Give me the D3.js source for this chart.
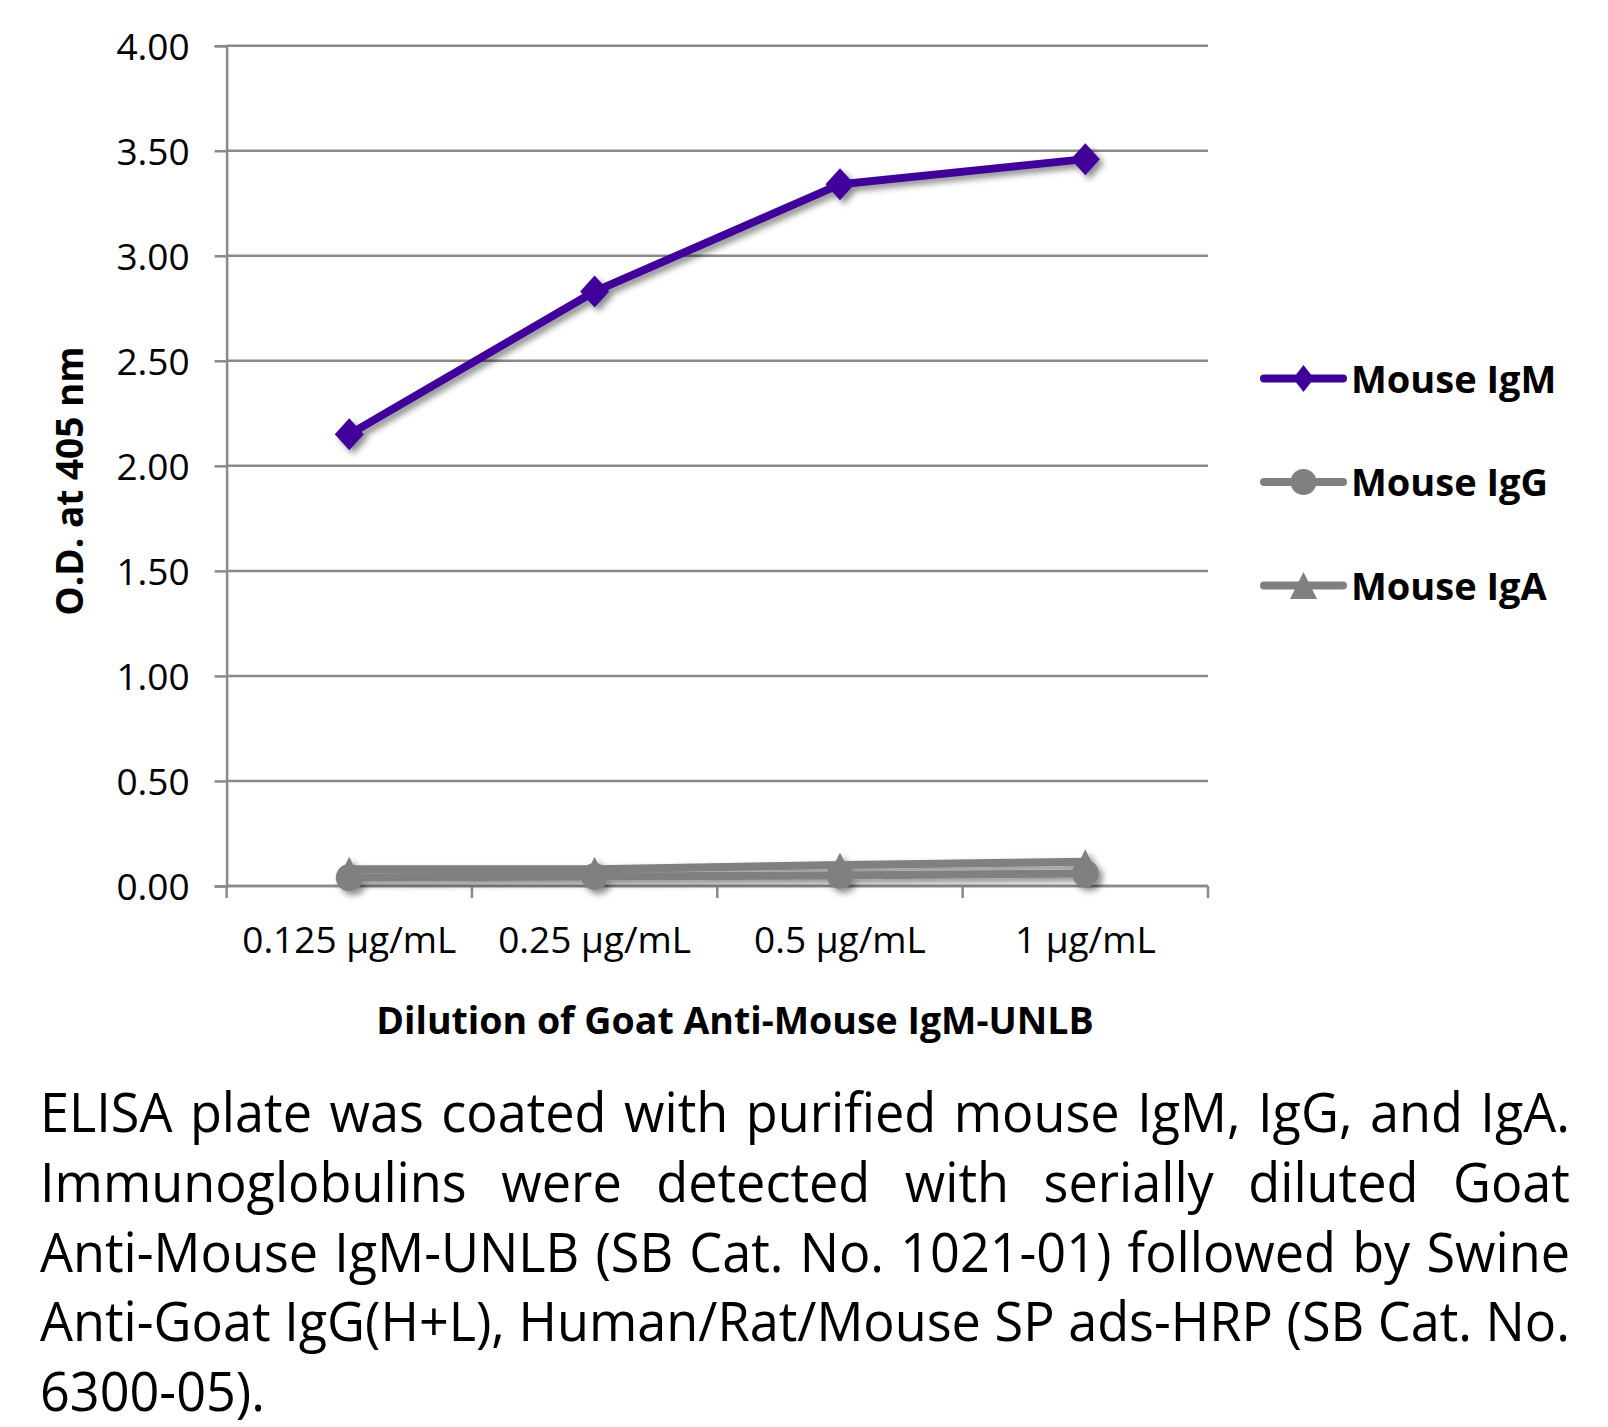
<!DOCTYPE html>
<html>
<head>
<meta charset="utf-8">
<script src="https://cdn.jsdelivr.net/npm/d3@7"></script>
<style>
html,body{margin:0;padding:0;background:#fff;}
svg{display:block;}
</style>
</head>
<body>
<svg id="chart" width="1608" height="1427"></svg>
<script>
// ---- data ----
const categories = ["0.125 µg/mL", "0.25 µg/mL", "0.5 µg/mL", "1 µg/mL"];
const igmValues = [2.15, 2.83, 3.34, 3.46];
const iggValues = [0.04, 0.045, 0.05, 0.06];
const igaValues = [0.08, 0.08, 0.10, 0.115];
const seriesNames = ["Mouse IgM", "Mouse IgG", "Mouse IgA"];
const yTicks = [0, 0.5, 1, 1.5, 2, 2.5, 3, 3.5, 4];
const yTitle = "O.D. at 405 nm";
const xTitle = "Dilution of Goat Anti-Mouse IgM-UNLB";
const captionLines = [
  "ELISA plate was coated with purified mouse IgM, IgG, and IgA.",
  "Immunoglobulins were detected with serially diluted Goat",
  "Anti-Mouse IgM-UNLB (SB Cat. No. 1021-01) followed by Swine",
  "Anti-Goat IgG(H+L), Human/Rat/Mouse SP ads-HRP (SB Cat. No.",
  "6300-05)."
];

// ---- layout ----
const FONT = "'Open Sans', 'Noto Sans', sans-serif";
const plot = {left: 226.6, right: 1208, top: 45.7, bottom: 886};
const purple = "#3f0099", gray = "#808080", gridGray = "#8a8a8a";

const svg = d3.select("#chart");
const defs = svg.append("defs");
const f = defs.append("filter").attr("id", "shadow")
  .attr("x", "-20%").attr("y", "-20%").attr("width", "140%").attr("height", "140%");
f.append("feDropShadow").attr("dx", 4).attr("dy", 4).attr("stdDeviation", 3)
  .attr("flood-color", "#000").attr("flood-opacity", 0.45);

const x = d3.scaleBand().domain(categories).range([plot.left, plot.right]).padding(0);
const xc = d => x(d) + x.bandwidth() / 2;
const y = d3.scaleLinear().domain([0, 4]).range([plot.bottom, plot.top]);

// gridlines
svg.append("g").selectAll("line").data(yTicks).join("line")
  .attr("x1", plot.left).attr("x2", plot.right)
  .attr("y1", d => y(d)).attr("y2", d => y(d))
  .attr("stroke", gridGray).attr("stroke-width", 2.5);

// y axis
const yAxis = svg.append("g").attr("transform", `translate(${plot.left},0)`)
  .call(d3.axisLeft(y).tickValues(yTicks).tickFormat(d3.format(".2f")).tickSize(12).tickPadding(25));
yAxis.select(".domain").attr("stroke", gridGray).attr("stroke-width", 2.5);
yAxis.selectAll(".tick line").attr("stroke", gridGray).attr("stroke-width", 2.5);
yAxis.selectAll(".tick text").attr("font-family", FONT).attr("font-size", 37).attr("fill", "#000")
  .attr("dy", "0.36em");

// x axis
const xAxisG = svg.append("g").attr("transform", `translate(0,${plot.bottom})`);
xAxisG.append("line").attr("x1", plot.left).attr("x2", plot.right).attr("y1", 0).attr("y2", 0)
  .attr("stroke", gridGray).attr("stroke-width", 2.5);
const bounds = categories.map(c => x(c)).concat([x(categories[categories.length - 1]) + x.bandwidth()]);
xAxisG.selectAll("line.tk").data(bounds).join("line").attr("class", "tk")
  .attr("x1", d => d).attr("x2", d => d).attr("y1", 0).attr("y2", 12)
  .attr("stroke", gridGray).attr("stroke-width", 2.5);
xAxisG.selectAll("text").data(categories).join("text")
  .attr("x", d => xc(d)).attr("y", 67).attr("text-anchor", "middle")
  .attr("font-family", FONT).attr("font-size", 37).attr("fill", "#000").text(d => d);

// axis titles
svg.append("text").attr("transform", `translate(83,481) rotate(-90)`)
  .attr("text-anchor", "middle").attr("font-family", FONT).attr("font-weight", 700)
  .attr("font-size", 37).attr("fill", "#000").text(yTitle);
svg.append("text").attr("x", 735).attr("y", 1034)
  .attr("text-anchor", "middle").attr("font-family", FONT).attr("font-weight", 700)
  .attr("font-size", 37.5).attr("fill", "#000").text(xTitle);

// markers
const sym = {
  diamond: (hw, hh) => `M0,${-hh}L${hw},0L0,${hh}L${-hw},0Z`,
  circle: r => `M${-r},0A${r},${r} 0 1,0 ${r},0A${r},${r} 0 1,0 ${-r},0Z`,
  triangle: s => `M0,${-s/2}L${s/2},${s/2}L${-s/2},${s/2}Z`
};
const series = [
  {name: seriesNames[0], values: igmValues, color: purple, marker: sym.diamond(14.5, 16), lmarker: sym.diamond(10.5, 13.5)},
  {name: seriesNames[1], values: iggValues, color: gray, marker: sym.circle(13.5), lmarker: sym.circle(13)},
  {name: seriesNames[2], values: igaValues, color: gray, marker: sym.triangle(25), lmarker: sym.triangle(27)}
];

const line = d3.line().x((d, i) => xc(categories[i])).y(d => y(d));
const sg = svg.append("g").attr("filter", "url(#shadow)");
series.forEach(s => {
  const g = sg.append("g");
  g.append("path").attr("d", line(s.values)).attr("fill", "none")
    .attr("stroke", s.color).attr("stroke-width", 8).attr("stroke-linejoin", "round").attr("stroke-linecap", "round");
  g.selectAll("path.m").data(s.values).join("path").attr("class", "m")
    .attr("transform", (d, i) => `translate(${xc(categories[i])},${y(d)})`)
    .attr("d", s.marker).attr("fill", s.color);
});

// legend
const legend = svg.append("g");
const legendY = d3.scalePoint().domain(seriesNames).range([378.5, 585.5]);
series.forEach(s => {
  const ly = legendY(s.name);
  legend.append("line").attr("x1", 1264).attr("x2", 1343).attr("y1", ly).attr("y2", ly)
    .attr("stroke", s.color).attr("stroke-width", 8).attr("stroke-linecap", "round");
  legend.append("path").attr("transform", `translate(1303.5,${ly})`).attr("d", s.lmarker).attr("fill", s.color);
  legend.append("text").attr("x", 1351).attr("y", ly + 14)
    .attr("font-family", FONT).attr("font-weight", 700).attr("font-size", 38).attr("fill", "#000")
    .text(s.name);
});

// caption (justified)
const cap = {left: 40, right: 1570, baseline0: 1132, lineStep: 69.8, size: 54};
const W = cap.right - cap.left;
const capG = svg.append("g");
const lineData = captionLines.map((t, i) => {
  const g = capG.append("g");
  const words = t.split(" ");
  const nodes = words.map(w => g.append("text").attr("font-family", FONT).attr("font-size", cap.size)
    .attr("fill", "#000").text(w));
  const widths = nodes.map(n => n.node().getComputedTextLength());
  return {g, words, nodes, widths, i};
});
const probe = capG.append("text").attr("font-family", FONT).attr("font-size", cap.size).text("a a");
const probe2 = capG.append("text").attr("font-family", FONT).attr("font-size", cap.size).text("aa");
const spaceW = probe.node().getComputedTextLength() - probe2.node().getComputedTextLength();
probe.remove(); probe2.remove();
let scale = 1;
lineData.forEach((L, k) => {
  if (k === lineData.length - 1) return;
  const nat = d3.sum(L.widths) + spaceW * (L.words.length - 1);
  scale = Math.min(scale, W / nat);
});
lineData.forEach((L, k) => {
  L.g.attr("transform", `translate(${cap.left},${cap.baseline0 + k * cap.lineStep}) scale(${scale},1)`);
  const last = k === lineData.length - 1;
  const total = W / scale;
  const gap = last ? spaceW : (total - d3.sum(L.widths)) / (L.words.length - 1);
  let cx = 0;
  L.nodes.forEach((n, j) => { n.attr("x", cx); cx += L.widths[j] + gap; });
});
</script>
</body>
</html>
